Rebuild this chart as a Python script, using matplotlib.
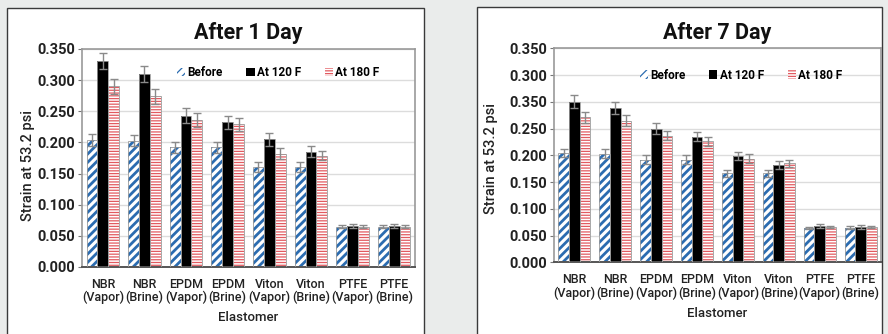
import numpy as np
import matplotlib
matplotlib.use("Agg")
import matplotlib.pyplot as plt
from matplotlib.patches import Rectangle

plt.rcParams['font.family'] = ['Roboto', 'DejaVu Sans']

categories = ["NBR\n(Vapor)", "NBR\n(Brine)", "EPDM\n(Vapor)", "EPDM\n(Brine)",
              "Viton\n(Vapor)", "Viton\n(Brine)", "PTFE\n(Vapor)", "PTFE\n(Brine)"]
series_names = ["Before", "At 120 F", "At 180 F"]

# After 1 day
day1_before = [0.204, 0.203, 0.192, 0.192, 0.161, 0.161, 0.065, 0.065]
day1_120f = [0.331, 0.310, 0.243, 0.232, 0.205, 0.185, 0.066, 0.066]
day1_180f = [0.290, 0.274, 0.236, 0.229, 0.182, 0.179, 0.065, 0.065]
day1_err_before = [0.009, 0.009, 0.009, 0.009, 0.008, 0.008, 0.002, 0.002]
day1_err_120f = [0.013, 0.013, 0.012, 0.011, 0.010, 0.009, 0.003, 0.003]
day1_err_180f = [0.012, 0.012, 0.011, 0.011, 0.009, 0.008, 0.002, 0.002]
day1_ticks = [0.0, 0.05, 0.10, 0.15, 0.20, 0.25, 0.30, 0.35]
day1_ticklabels = ["0.000", "0.050", "0.100", "0.150", "0.200", "0.250", "0.300", "0.350"]

# After 7 days
day7_before = [0.204, 0.203, 0.192, 0.192, 0.166, 0.166, 0.064, 0.065]
day7_120f = [0.300, 0.288, 0.250, 0.235, 0.199, 0.182, 0.068, 0.066]
day7_180f = [0.271, 0.265, 0.237, 0.226, 0.194, 0.185, 0.066, 0.066]
day7_err_before = [0.008, 0.008, 0.008, 0.008, 0.007, 0.007, 0.002, 0.002]
day7_err_120f = [0.012, 0.011, 0.010, 0.009, 0.008, 0.008, 0.003, 0.003]
day7_err_180f = [0.010, 0.010, 0.009, 0.009, 0.008, 0.007, 0.002, 0.002]
day7_ticks = [0.0, 0.05, 0.10, 0.15, 0.20, 0.25, 0.30, 0.35, 0.40]
day7_ticklabels = ["0.000", "0.050", "0.100", "0.150", "0.200", "0.250", "0.350", "0.300", "0.350"]

BLUE = "#2b6cb0"
RED = "#e25a60"
GRID = "#dcdcdc"
TEXT = "#222222"


def draw_panel(ax, before, f120, f180, errs, ticks, ticklabels, title, legend_xy):
    x = np.arange(len(categories))
    w = 0.26
    styles = [
        dict(face="white", hatch="////", hcolor=BLUE, hlw=2.0),
        dict(face="black", hatch=None, hcolor="black", hlw=1.0),
        dict(face="white", hatch="------", hcolor=RED, hlw=0.9),
    ]
    for i, (vals, err, st, name) in enumerate(zip([before, f120, f180], errs, styles, series_names)):
        pos = x + (i - 1) * w
        plt.rcParams['hatch.linewidth'] = st["hlw"]
        ax.bar(pos, vals, w, color=st["face"], edgecolor=st["hcolor"], hatch=st["hatch"],
               linewidth=0, label=name, zorder=2)
        ax.bar(pos, vals, w, fill=False, edgecolor="#9a9a9a", linewidth=0.6, zorder=3)
        ax.errorbar(pos, vals, yerr=err, fmt="none", ecolor="#8a8a8a", elinewidth=1.0,
                    capsize=3, capthick=1.0, zorder=4)

    ax.set_xlim(-0.5, len(categories) - 0.5)
    ax.set_ylim(ticks[0], ticks[-1])
    ax.set_yticks(ticks)
    ax.set_yticklabels(ticklabels, fontsize=10.5, fontweight="bold", color=TEXT)
    ax.set_xticks(x)
    ax.set_xticklabels(categories, fontsize=9, fontweight="medium", color=TEXT,
                       linespacing=1.0)
    ax.tick_params(axis="x", length=0, pad=8)
    ax.tick_params(axis="y", length=3, width=0.8, color="#777777", pad=2)
    ax.yaxis.grid(True, color=GRID, linewidth=1.0, zorder=0)
    ax.set_axisbelow(True)
    for side in ["top", "right", "left"]:
        ax.spines[side].set_color("#999999")
        ax.spines[side].set_linewidth(1.2)
    ax.spines["bottom"].set_color("#555555")
    ax.spines["bottom"].set_linewidth(1.4)
    ax.set_xlabel("Elastomer", fontsize=9.5, fontweight="medium", color=TEXT, labelpad=5)
    ax.set_title(title, fontsize=15.5, fontweight="bold", color="#111111", pad=7)
    ax.legend(loc="center", bbox_to_anchor=legend_xy, ncol=3, frameon=False,
              handlelength=0.7, handleheight=0.7, handletextpad=0.2, columnspacing=2.0,
              prop=dict(size=8.5, weight="bold"))


fig = plt.figure(figsize=(8.88, 3.34), dpi=100, facecolor="#eaeceb")

# white framed panels behind each chart
fig.patches.append(Rectangle((7 / 888, -0.05), 417 / 888, 1 - 8 / 334 + 0.05,
                             transform=fig.transFigure, facecolor="white",
                             edgecolor="#3a3a3a", linewidth=1.0, zorder=-5))
fig.patches.append(Rectangle((477 / 888, -0.05), 405 / 888, 1 - 7 / 334 + 0.05,
                             transform=fig.transFigure, facecolor="white",
                             edgecolor="#3a3a3a", linewidth=1.0, zorder=-5))

ax1 = fig.add_axes([82 / 888, 1 - 267 / 334, 333 / 888, 218 / 334])
ax2 = fig.add_axes([554 / 888, 1 - 262.3 / 334, 327 / 888, 214 / 334])

draw_panel(ax1, day1_before, day1_120f, day1_180f,
           [day1_err_before, day1_err_120f, day1_err_180f],
           day1_ticks, day1_ticklabels, "After 1 Day", (0.589, 0.89))
draw_panel(ax2, day7_before, day7_120f, day7_180f,
           [day7_err_before, day7_err_120f, day7_err_180f],
           day7_ticks, day7_ticklabels, "After 7 Day", (0.572, 0.875))

fig.text(28 / 888, 1 - 165 / 334, "Strain at 53.2 psi", rotation=90, ha="center", va="center",
         fontsize=10.5, fontweight="medium", color=TEXT)
fig.text(491 / 888, 1 - 159 / 334, "Strain at 53.2 psi", rotation=90, ha="center", va="center",
         fontsize=10.5, fontweight="medium", color=TEXT)

fig.savefig("out.png", dpi=100, facecolor=fig.get_facecolor())
